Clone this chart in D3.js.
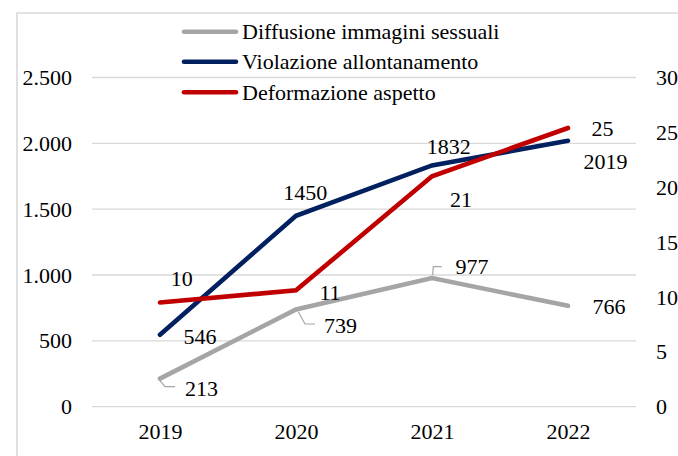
<!DOCTYPE html>
<html>
<head>
<meta charset="utf-8">
<script src="https://cdn.jsdelivr.net/npm/d3@7/dist/d3.min.js"></script>
<style>
  html, body { margin: 0; padding: 0; background: #fff; }
  svg { display: block; }
</style>
</head>
<body>
<div id="chart"></div>
<script>
// ---- Data ----
const years = ["2019", "2020", "2021", "2022"];
const seriesNames = ["Diffusione immagini sessuali", "Violazione allontanamento", "Deformazione aspetto"];
const diffusione = [213, 739, 977, 766];          // left axis
const violazione = [546, 1450, 1832, 2019];       // left axis
const deformazione = [9.5, 10.6, 21.0, 25.4];     // right axis
const leftTicks = [0, 500, 1000, 1500, 2000, 2500];
const rightTicks = [0, 5, 10, 15, 20, 25, 30];

// ---- Layout / style (kept separate from data) ----
const W = 678, H = 456;
const plot = { left: 92, right: 636, top: 77.5, bottom: 406.7 };
const colors = ["#a5a5a5", "#002060", "#c00000"];
const lineW = 4.6;
const FONT = "'Liberation Serif', 'Tinos', 'Times New Roman', serif";
const FS = "22px";

const series = [
  { name: seriesNames[0], values: diffusione, axis: "left", color: colors[0] },
  { name: seriesNames[1], values: violazione, axis: "left", color: colors[1] },
  { name: seriesNames[2], values: deformazione, axis: "right", color: colors[2] }
];

const labelOffsets = [
  [[41.5, 9.3], [44.5, 15.6], [40, -11.4], [41, 0.8]],
  [[40, 1], [9.3, -23.2], [16.7, -19], [37.5, 20.7]],
  [[21.7, -23.7], [34, 1.7], [29, 22.7], [34.5, 0.7]]
];
const leaders = [
  [[[-0.7, 1.3], [5, 8], [15, 8]], [[2.3, 2.3], [9, 14.6], [19, 14.6]], [[0.7, -3], [1.3, -11.4], [9.7, -11.4]], null],
  [null, null, null, null],
  [null, null, null, null]
];

const svg = d3.select("#chart").append("svg").attr("width", W).attr("height", H);

svg.append("path")
  .attr("d", `M17,${H + 5} L17,13 L${W + 5},13`)
  .attr("fill", "none").attr("stroke", "#d9d9d9").attr("stroke-width", 1.6);

const x = d3.scalePoint().domain(years).range([plot.left, plot.right]).padding(0.5);
const yL = d3.scaleLinear().domain([0, 2500]).range([plot.bottom, plot.top]);
const yR = d3.scaleLinear().domain([0, 30]).range([plot.bottom, plot.top]);

const it = d3.formatLocale({ decimal: ",", thousands: ".", grouping: [3], currency: ["€", ""] });
const fmtL = it.format(",d");

svg.append("g").selectAll("line").data(leftTicks).join("line")
  .attr("x1", plot.left).attr("x2", plot.right)
  .attr("y1", d => yL(d)).attr("y2", d => yL(d))
  .attr("stroke", "#d9d9d9").attr("stroke-width", 1.3);

function styleAxis(g) {
  g.select(".domain").remove();
  g.attr("font-family", FONT).attr("font-size", FS);
  g.selectAll("text").attr("fill", "#000");
}

svg.append("g").attr("transform", `translate(${plot.left},0)`)
  .call(d3.axisLeft(yL).tickValues(leftTicks).tickFormat(fmtL).tickSize(0).tickPadding(20))
  .call(styleAxis);

svg.append("g").attr("transform", `translate(${plot.right},0)`)
  .call(d3.axisRight(yR).tickValues(rightTicks).tickFormat(d3.format("d")).tickSize(0).tickPadding(20))
  .call(styleAxis);

svg.append("g").attr("transform", `translate(0,${plot.bottom})`)
  .call(d3.axisBottom(x).tickSize(0).tickPadding(17))
  .call(styleAxis);

const line = (s) => d3.line()
  .x((d, i) => x(years[i]))
  .y(d => (s.axis === "left" ? yL(d) : yR(d)));

series.forEach(s => {
  svg.append("path").datum(s.values)
    .attr("d", line(s))
    .attr("fill", "none").attr("stroke", s.color).attr("stroke-width", lineW)
    .attr("stroke-linecap", "round").attr("stroke-linejoin", "miter");
});

const labels = svg.append("g").attr("font-family", FONT).attr("font-size", FS).attr("fill", "#000");
series.forEach((s, si) => {
  const yS = s.axis === "left" ? yL : yR;
  const fmt = s.axis === "left" ? d3.format("d") : d3.format(".0f");
  s.values.forEach((v, i) => {
    const px = x(years[i]), py = yS(v);
    const ld = leaders[si][i];
    if (ld) {
      svg.append("path")
        .attr("d", d3.line()(ld.map(p => [px + p[0], py + p[1]])))
        .attr("fill", "none").attr("stroke", "#a5a5a5").attr("stroke-width", 1.2);
    }
    const off = labelOffsets[si][i];
    labels.append("text")
      .attr("x", px + off[0]).attr("y", py + off[1])
      .attr("text-anchor", "middle").attr("dy", "0.35em")
      .text(fmt(v));
  });
});

const legendY = [31.7, 61.7, 92.2];
const lg = svg.append("g").attr("font-family", FONT).attr("font-size", FS).attr("fill", "#000");
series.forEach((s, i) => {
  lg.append("line")
    .attr("x1", 184).attr("x2", 236)
    .attr("y1", legendY[i]).attr("y2", legendY[i])
    .attr("stroke", s.color).attr("stroke-width", lineW).attr("stroke-linecap", "round");
  lg.append("text")
    .attr("x", 242).attr("y", legendY[i]).attr("dy", "0.35em")
    .text(s.name);
});
</script>
</body>
</html>
